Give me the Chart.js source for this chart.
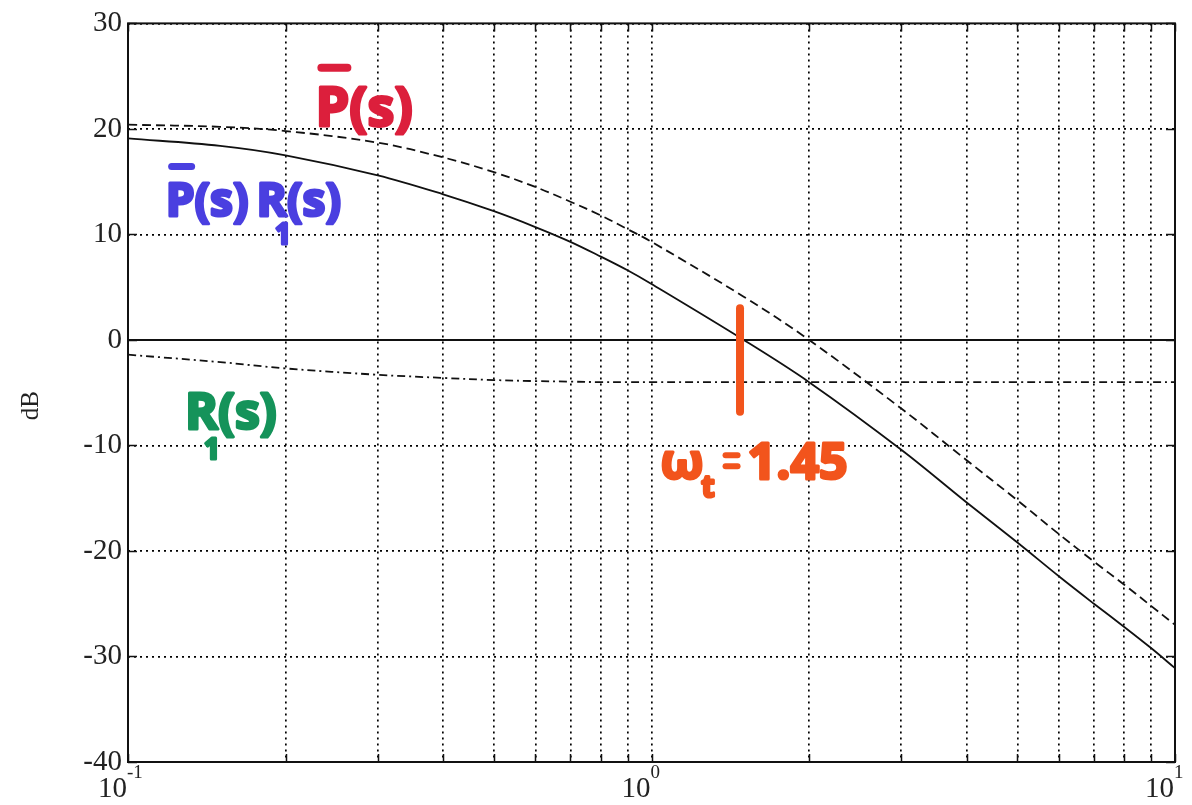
<!DOCTYPE html>
<html>
<head>
<meta charset="utf-8">
<title>Bode magnitude</title>
<script src="https://cdn.jsdelivr.net/npm/chart.js@4.4.1/dist/chart.umd.min.js"></script>
<style>
    html, body { margin: 0; padding: 0; background: #ffffff; }
    #bode { display: block; }
</style>
</head>
<body>
<canvas id="bode" width="1192" height="805"></canvas>
<script>
// Frequências (rad/s)
const freqs = [0.1, 0.15, 0.2, 0.3, 0.4, 0.5, 0.6, 0.7, 0.8, 0.9, 1, 1.5, 2, 3, 4, 5, 6, 7, 8, 9, 10];

// Magnitudes em dB (estimadas da figura)
const plantDb = [20.4, 20.2, 19.8, 18.7, 17.3, 15.9, 14.5, 13.1, 11.8, 10.5, 9.3, 4.1, 0.0, -6.5, -11.4, -15.2, -18.4, -21.0, -23.2, -25.2, -27.0];
const loopDb = [19.1, 18.4, 17.5, 15.6, 13.8, 12.2, 10.7, 9.3, 7.9, 6.6, 5.3, 0.0, -4.0, -10.4, -15.4, -19.2, -22.4, -25.0, -27.2, -29.2, -31.1];
const compDb = [-1.4, -2.1, -2.7, -3.3, -3.6, -3.8, -3.9, -3.95, -4.0, -4.0, -4.0, -4.0, -4.0, -4.0, -4.0, -4.0, -4.0, -4.0, -4.0, -4.0, -4.0];

// Linha de 0 dB
const zeroFreqs = [0.1, 10];
const zeroDb = [0, 0];

// Marcas dos eixos
const xTickValues = [0.1, 0.2, 0.3, 0.4, 0.5, 0.6, 0.7, 0.8, 0.9, 1, 2, 3, 4, 5, 6, 7, 8, 9, 10];
const xDecades = [0.1, 1, 10];
const xDecadeExp = ['-1', '0', '1'];
const yTickValues = [-40, -30, -20, -10, 0, 10, 20, 30];

const SERIF = '"Liberation Serif", "DejaVu Serif", serif';
const HAND = '"Open Sans", "Noto Sans", sans-serif';

function toPoints(xs, ys) {
    return xs.map((x, i) => ({ x: x, y: ys[i] }));
}

/**
 * Plugin: moldura, marcas internas e rótulos 10^n
 * ======================================================================== */
const framePlugin = {
    id: 'frame',
    afterDraw(chart) {
        const { ctx, chartArea: a, scales } = chart;
        ctx.save();
        ctx.strokeStyle = '#111';
        ctx.lineWidth = 1.5;
        ctx.setLineDash([]);

        // pequenas marcas sólidas para dentro
        ctx.beginPath();
        xTickValues.forEach(v => {
            const px = Math.round(scales.x.getPixelForValue(v)) + 0.5;
            ctx.moveTo(px, a.bottom); ctx.lineTo(px, a.bottom - 8);
            ctx.moveTo(px, a.top); ctx.lineTo(px, a.top + 8);
        });
        yTickValues.forEach(v => {
            const py = Math.round(scales.y.getPixelForValue(v)) + 0.5;
            ctx.moveTo(a.left, py); ctx.lineTo(a.left + 9, py);
            ctx.moveTo(a.right, py); ctx.lineTo(a.right - 9, py);
        });
        ctx.stroke();

        ctx.lineWidth = 2;
        ctx.strokeRect(a.left, a.top, a.right - a.left, a.bottom - a.top);

        // rótulos do eixo x com expoente
        ctx.fillStyle = '#222';
        ctx.textBaseline = 'alphabetic';
        xDecades.forEach((v, i) => {
            const px = scales.x.getPixelForValue(v);
            ctx.font = '29px ' + SERIF;
            ctx.textAlign = 'right';
            ctx.fillText('10', px - 1, a.bottom + 35);
            ctx.font = '19px ' + SERIF;
            ctx.textAlign = 'left';
            ctx.fillText(xDecadeExp[i], px - 1, a.bottom + 16);
        });

        // título do eixo y
        ctx.save();
        ctx.translate(38, (a.top + a.bottom) / 2 + 13);
        ctx.rotate(-Math.PI / 2);
        ctx.font = '25px ' + SERIF;
        ctx.textAlign = 'center';
        ctx.fillText('dB', 0, 0);
        ctx.restore();

        ctx.restore();
    }
};

/**
 * Plugin: anotações feitas à mão (marcador colorido)
 * ======================================================================== */
const handNotesPlugin = {
    id: 'handNotes',
    afterDatasetsDraw(chart) {
        const { ctx, scales } = chart;
        const X = v => scales.x.getPixelForValue(v);
        const Y = v => scales.y.getPixelForValue(v);

        function marker(text, x, y, size, color) {
            ctx.font = 'bold ' + size + 'px ' + HAND;
            ctx.fillStyle = color;
            ctx.strokeStyle = color;
            ctx.lineWidth = 3;
            ctx.lineJoin = 'round';
            ctx.strokeText(text, x, y);
            ctx.fillText(text, x, y);
            return ctx.measureText(text).width;
        }
        function bar(x1, y1, x2, y2, w, color) {
            ctx.strokeStyle = color;
            ctx.lineWidth = w;
            ctx.lineCap = 'round';
            ctx.beginPath();
            ctx.moveTo(x1, y1); ctx.lineTo(x2, y2);
            ctx.stroke();
        }

        ctx.save();
        ctx.textAlign = 'left';
        ctx.textBaseline = 'alphabetic';

        // P(s) em vermelho
        const red = '#dc1f3c';
        let x0 = X(0.228), y0 = Y(20.3);
        marker('P(s)', x0, y0, 54, red);
        bar(x0 + 6, y0 - 58, x0 + 32, y0 - 58, 8, red);

        // P(s) R1(s) em azul
        const blue = '#4a3fe0';
        x0 = X(0.118); y0 = Y(11.7);
        let w = marker('P(s)', x0, y0, 46, blue);
        bar(x0 + 6, y0 - 50, x0 + 26, y0 - 50, 7, blue);
        let w2 = marker('R', x0 + w + 8, y0, 46, blue);
        marker('1', x0 + w + 8 + w2 - 12, y0 + 28, 28, blue);
        marker('(s)', x0 + w + 8 + w2, y0, 46, blue);

        // R1(s) em verde
        const green = '#15935a';
        x0 = X(0.1285); y0 = Y(-8.4);
        w2 = marker('R', x0, y0, 50, green);
        marker('1', x0 + w2 - 14, y0 + 30, 28, green);
        marker('(s)', x0 + w2, y0, 50, green);

        // marcação da frequência de cruzamento
        const orange = '#f2541c';
        bar(X(1.476), Y(3.0), X(1.476), Y(-6.8), 8, orange);
        x0 = X(1.04); y0 = Y(-13.2);
        w = marker('ω', x0, y0, 50, orange);
        marker('t', x0 + w - 2, y0 + 18, 30, orange);
        bar(x0 + w + 22, y0 - 24, x0 + w + 34, y0 - 24, 6, orange);
        bar(x0 + w + 22, y0 - 13, x0 + w + 34, y0 - 13, 6, orange);
        marker('1.45', x0 + w + 44, y0, 50, orange);

        ctx.restore();
    }
};

/**
 * Gráfico de magnitude
 * ======================================================================== */
document.addEventListener('DOMContentLoaded', function() {
    const ctx = document.getElementById('bode').getContext('2d');
    const lineBase = {
        borderColor: '#111',
        borderWidth: 1.8,
        pointRadius: 0,
        fill: false,
        tension: 0.35
    };

    new Chart(ctx, {
        type: 'line',
        data: {
            datasets: [
                Object.assign({ label: 'P(s)', data: toPoints(freqs, plantDb), borderDash: [9, 5] }, lineBase),
                Object.assign({ label: 'P(s)R1(s)', data: toPoints(freqs, loopDb) }, lineBase),
                Object.assign({ label: 'R1(s)', data: toPoints(freqs, compDb), borderDash: [8, 4, 2, 4] }, lineBase),
                Object.assign({ label: '0 dB', data: toPoints(zeroFreqs, zeroDb) }, lineBase, { borderWidth: 2, tension: 0 })
            ]
        },
        options: {
            responsive: false,
            devicePixelRatio: 1,
            animation: false,
            layout: { padding: { top: 17, right: 17, left: 0, bottom: 0 } },
            plugins: {
                legend: { display: false },
                tooltip: { enabled: false }
            },
            scales: {
                x: {
                    type: 'logarithmic',
                    min: 0.1,
                    max: 10,
                    afterBuildTicks: scale => { scale.ticks = xTickValues.map(v => ({ value: v })); },
                    afterFit: scale => { scale.height = 43; },
                    ticks: { display: false, autoSkip: false },
                    grid: { color: '#000', lineWidth: 1.7, drawTicks: false },
                    border: { display: false, dash: [2, 4] }
                },
                y: {
                    min: -40,
                    max: 30,
                    afterBuildTicks: scale => { scale.ticks = yTickValues.map(v => ({ value: v })); },
                    afterFit: scale => { scale.width = 128; },
                    ticks: {
                        color: '#222',
                        padding: 6,
                        font: { family: SERIF, size: 29 }
                    },
                    grid: { color: '#000', lineWidth: 1.7, drawTicks: false },
                    border: { display: false, dash: [2, 4] }
                }
            }
        },
        plugins: [framePlugin, handNotesPlugin]
    });
});
</script>
</body>
</html>
